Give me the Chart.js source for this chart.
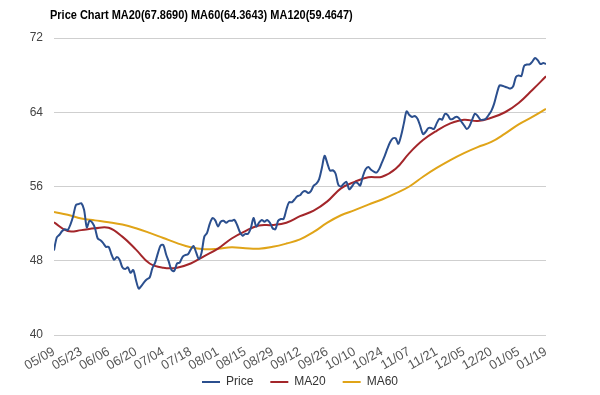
<!DOCTYPE html>
<html>
<head>
<meta charset="utf-8">
<script src="https://cdn.jsdelivr.net/npm/chart.js@4.4.1/dist/chart.umd.min.js"></script>
<style>
  html, body { margin: 0; padding: 0; background: #fff; }
  #wrap { position: relative; width: 600px; height: 395px; }
  #title {
    position: absolute; left: 50px; top: 8px; white-space: nowrap;
    font: bold 12px "Liberation Sans", Arial, sans-serif; color: #000;
    transform: scaleX(0.915); transform-origin: left top;
  }
</style>
</head>
<body>
<div id="wrap">
  <div id="title">Price Chart MA20(67.8690) MA60(64.3643) MA120(59.4647)</div>
  <canvas id="chart" width="600" height="395"></canvas>
</div>
<script>
  "use strict";

  // Eje X: fechas cada 10 sesiones (181 sesiones en total, índices 0..180)
  const tickLabels = ["05/09", "05/23", "06/06", "06/20", "07/04", "07/18", "08/01", "08/15", "08/29",
    "09/12", "09/26", "10/10", "10/24", "11/07", "11/21", "12/05", "12/20", "01/05", "01/19"];

  // Precio de cierre, una sesión por valor
  const price = [
    49.1, 50.5, 50.8, 51.2, 51.4, 51.3, 51.9, 52.8, 54.0, 54.1,
    54.2, 53.5, 51.6, 52.3, 52.1, 51.5, 50.4, 50.2, 49.9, 49.5,
    49.5, 48.7, 48.1, 48.4, 48.1, 47.3, 47.1, 47.3, 46.7, 47.0,
    45.9, 45.0, 45.3, 45.7, 46.0, 46.2, 47.2, 47.8, 48.8, 49.65,
    49.7, 48.7, 47.9, 47.0, 46.9, 47.7, 47.8, 48.4, 48.6, 48.7,
    49.2, 49.6, 48.9, 48.2, 48.9, 50.6, 51.0, 52.0, 52.6, 52.35,
    51.7, 52.2, 52.3, 52.1, 52.3, 52.3, 52.4, 51.85, 51.1, 50.7,
    50.9, 50.9, 51.5, 52.6, 51.7, 52.1, 52.4, 52.2, 52.4, 52.1,
    51.5, 51.4, 52.3, 52.5, 52.5, 53.5, 54.3, 54.3, 54.6, 54.95,
    55.05, 55.4, 55.5, 55.3, 55.5, 56.1, 56.3, 56.8, 58.0, 59.3,
    58.5, 57.7, 57.75, 57.4, 56.2, 56.0, 56.3, 56.5, 55.7, 56.0,
    56.4, 56.4, 56.1, 57.1, 57.85, 58.1, 57.8, 57.6, 57.5, 57.9,
    58.6, 59.3, 60.1, 60.8, 61.2, 61.2, 60.6, 61.5, 62.8, 64.1,
    63.7, 63.5, 63.6, 63.3, 62.5, 61.65, 61.9, 62.3, 62.3, 62.2,
    62.8, 63.3, 63.2, 63.8, 63.7, 63.25, 63.3, 63.5, 63.4, 63.0,
    62.6, 62.2, 62.5, 63.2, 63.85, 63.6, 63.2, 63.2, 63.3, 63.7,
    64.15, 64.9, 66.0, 66.9, 66.85, 66.75, 66.65, 66.55, 66.8, 67.8,
    67.95, 67.9, 69.0, 69.15, 69.15, 69.45, 69.85, 69.6, 69.2, 69.3,
    69.2
  ];

  // Medias móviles leídas cada 5 sesiones
  const maStep = 5;
  const ma20 = [
    52.15, 51.2, 51.3, 51.5, 51.55, 50.6, 49.2, 47.7, 47.25, 47.25,
    47.7, 48.5, 49.3, 50.4, 51.2, 51.8, 51.85, 52.1, 52.8, 53.4,
    54.4, 55.8, 56.5, 57.0, 57.05, 57.9, 59.6, 61.0, 62.0, 62.8,
    63.2, 63.05, 63.4, 64.0, 65.0, 66.4, 67.87
  ];
  const ma60 = [
    53.25, 52.95, 52.55, 52.35, 52.15, 51.9, 51.5, 51.0, 50.45, 49.9,
    49.45, 49.25, 49.3, 49.45, 49.35, 49.3, 49.5, 49.85, 50.3, 51.1,
    52.1, 52.9, 53.45, 54.05, 54.6, 55.25, 56.0, 57.05, 58.0, 58.85,
    59.6, 60.25, 60.8, 61.7, 62.7, 63.5, 64.36
  ];

  const yMin = 40;
  const yMax = 72;
  const yStep = 8;

  const FONT = "'Liberation Sans', Arial, sans-serif";

  const toPoints = (arr, step) => arr.map((v, i) => ({x: i * step, y: v}));

  new Chart(document.getElementById("chart"), {
    type: "line",
    data: {
      datasets: [
        {
          label: "Price",
          data: toPoints(price, 1),
          borderColor: "#2b4f8e",
          borderWidth: 2,
          tension: 0.3,
          pointRadius: 0,
          order: 1,
        },
        {
          label: "MA20",
          data: toPoints(ma20, maStep),
          borderColor: "#a3262a",
          borderWidth: 2,
          tension: 0.4,
          pointRadius: 0,
          order: 2,
        },
        {
          label: "MA60",
          data: toPoints(ma60, maStep),
          borderColor: "#e0a418",
          borderWidth: 2,
          tension: 0.4,
          pointRadius: 0,
          order: 3,
        },
      ],
    },
    options: {
      responsive: false,
      animation: false,
      devicePixelRatio: 1,
      layout: {padding: {top: 38, right: 0, bottom: -3, left: 0}},
      plugins: {
        title: {display: false},
        tooltip: {enabled: false},
        legend: {
          position: "bottom",
          labels: {
            usePointStyle: true,
            pointStyle: "line",
            pointStyleWidth: 18,
            padding: 17,
            color: "#333",
            font: {family: FONT, size: 12},
          },
        },
      },
      scales: {
        x: {
          type: "linear",
          min: 0,
          max: (tickLabels.length - 1) * 10,
          afterFit: (scale) => {
            scale.height = 24;
            // las fechas giradas bajan hasta la zona de la leyenda: sin recorte
            scale._computeLabelArea = () => undefined;
          },
          grid: {display: false},
          border: {display: false},
          ticks: {
            stepSize: 10,
            autoSkip: false,
            minRotation: 30,
            maxRotation: 30,
            padding: 1,
            color: "#555",
            font: {family: FONT, size: 13},
            callback: (v) => tickLabels[Math.round(v / 10)],
          },
        },
        y: {
          min: yMin,
          max: yMax,
          afterFit: (scale) => {
            scale.width = 54;
          },
          grid: {color: "#cfcfcf", drawTicks: false},
          border: {display: false},
          ticks: {
            stepSize: yStep,
            padding: 11,
            color: "#444",
            font: {family: FONT, size: 12},
          },
        },
        // margen derecho vacío, para que la leyenda quede centrada en todo el ancho
        yRight: {
          position: "right",
          afterFit: (scale) => {
            scale.width = 54;
          },
          grid: {display: false},
          border: {display: false},
          ticks: {display: false},
        },
      },
    },
  });
</script>
</body>
</html>
